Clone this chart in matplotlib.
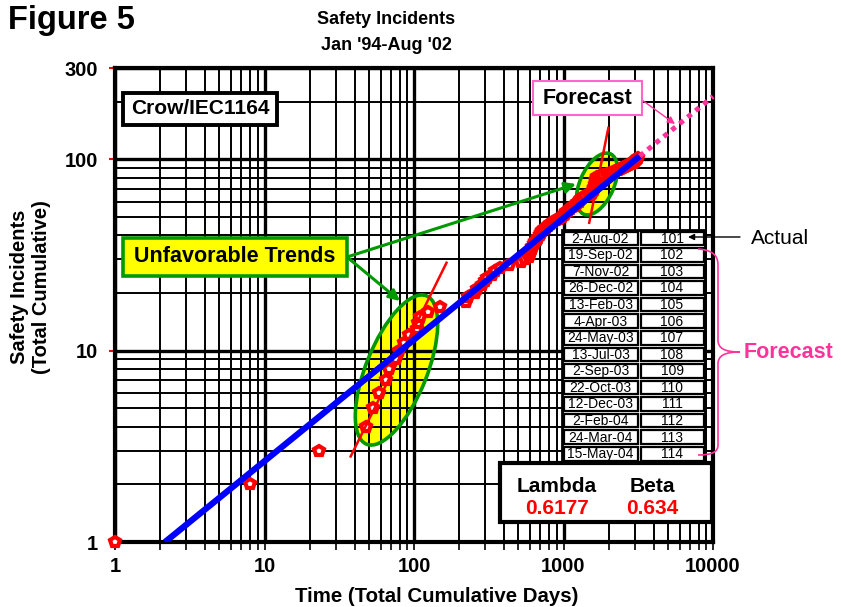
import numpy as np
import matplotlib
matplotlib.use("Agg")
import matplotlib.pyplot as plt
from matplotlib import font_manager as fm
from matplotlib.patches import Ellipse, Rectangle, PathPatch, FancyArrowPatch
from matplotlib.path import Path
from matplotlib.transforms import IdentityTransform
from matplotlib.ticker import LogLocator, NullFormatter

# ── Fonts ─────────────────────────────────────────────────────────────────────
names = {f.name for f in fm.fontManager.ttflist}
SANS = "Liberation Sans" if "Liberation Sans" in names else "DejaVu Sans"
NARROW = "Liberation Sans Narrow" if "Liberation Sans Narrow" in names else SANS
plt.rcParams["font.family"] = [SANS, "DejaVu Sans"]

# ── Data ──────────────────────────────────────────────────────────────────────
days = [1, 8, 23, 48, 53, 58, 65, 68, 76, 79,
        86, 93, 104, 107, 110, 125, 149, 222, 228, 255,
        265, 285, 300, 310, 330, 350, 375, 430, 520, 550,
        590, 600, 605, 612, 620, 630, 645, 660, 680, 695,
        705, 720, 735, 760, 790, 815, 850, 890, 930, 975,
        1000, 1020, 1045, 1080, 1100, 1140, 1180, 1210, 1240, 1260,
        1280, 1300, 1330, 1400, 1470, 1520, 1550, 1570, 1590, 1600,
        1610, 1620, 1630, 1640, 1645, 1650, 1655, 1660, 1665, 1670,
        1680, 1750, 1850, 1950, 2050, 2130, 2220, 2300, 2380, 2450,
        2530, 2610, 2690, 2770, 2850, 2910, 2970, 3020, 3060, 3100,
        3135]
incidents = [1, 2, 3, 4, 5, 6, 7, 8, 9, 10,
             11, 12, 13, 14, 15, 16, 17, 18, 19, 20,
             21, 22, 23, 24, 25, 26, 27, 28, 29, 30,
             31, 32, 33, 34, 35, 36, 37, 38, 39, 40,
             41, 42, 43, 44, 45, 46, 47, 48, 49, 50,
             51, 52, 53, 54, 55, 56, 57, 58, 59, 60,
             61, 62, 63, 64, 65, 66, 67, 68, 69, 70,
             71, 72, 73, 74, 75, 76, 77, 78, 79, 80,
             81, 82, 83, 84, 85, 86, 87, 88, 89, 90,
             91, 92, 93, 94, 95, 96, 97, 98, 99, 100,
             101]

fit_t = [2.16, 3240]          # Crow/AMSAA fit  N = lambda * t^beta
fit_n = [1.0, 104]
forecast_t = [3240, 10000]
forecast_n = [104, 213]
trend1_t = [37.7, 165]
trend1_n = [2.8, 28.8]
trend2_t = [1486, 1995]
trend2_n = [46.6, 146]

table_dates = ["2-Aug-02", "19-Sep-02", "7-Nov-02", "26-Dec-02", "13-Feb-03",
               "4-Apr-03", "24-May-03", "13-Jul-03", "2-Sep-03", "22-Oct-03",
               "12-Dec-03", "2-Feb-04", "24-Mar-04", "15-May-04"]
table_counts = [101, 102, 103, 104, 105, 106, 107, 108, 109, 110, 111, 112, 113, 114]

lam, beta = "0.6177", "0.634"

GREEN = "#009900"
PINK = "#FF3399"
PINK_LIGHT = "#FF66CC"

# ── Layout (pixel helpers, y measured from top) ───────────────────────────────
W, H = 841, 607
PX = IdentityTransform()

def T(x, y, s, **kw):
    return fig.text(x / W, 1 - y / H, s, **kw)

def box(x0, y0, x1, y1, **kw):
    r = Rectangle((x0, H - y1), x1 - x0, y1 - y0, transform=PX, **kw)
    fig.add_artist(r)
    return r

fig = plt.figure(figsize=(W / 100, H / 100), dpi=100)
ax = fig.add_axes([115 / W, (H - 542) / H, 598 / W, 474 / H])
ax.set_xscale("log")
ax.set_yscale("log")
ax.set_xlim(1, 10000)
ax.set_ylim(1, 300)

ax.set_xticks([1, 10, 100, 1000, 10000], labels=["1", "10", "100", "1000", "10000"])
ax.xaxis.set_minor_locator(LogLocator(base=10, subs=np.arange(2, 10)))
ax.xaxis.set_minor_formatter(NullFormatter())
ax.set_yticks([1, 10, 100, 300], labels=["1", "10", "100", "300"])
ax.yaxis.set_minor_locator(LogLocator(base=10, subs=np.arange(2, 10)))
ax.yaxis.set_minor_formatter(NullFormatter())

ax.set_axisbelow(True)
ax.grid(which="major", color="black", linewidth=2.4)
ax.grid(which="minor", color="black", linewidth=1.4)
for sp in ax.spines.values():
    sp.set_linewidth(3)
    sp.set_color("black")

ax.tick_params(axis="x", which="both", direction="out", length=6, width=1.2,
               color="black", labelsize=14.5, pad=5)
ax.tick_params(axis="y", which="major", direction="out", length=4, width=1.5,
               color="red", labelsize=14.5, pad=8)
ax.tick_params(axis="y", which="minor", length=0)
for lbl in ax.get_xticklabels() + ax.get_yticklabels():
    lbl.set_fontweight("bold")

# ── Ellipses (fill below grid, edge above) ────────────────────────────────────
for (cx, cy, w, h, ang) in [(396.5, 370, 160, 61, 68), (597, 184, 66, 34, 66)]:
    ax.add_patch(Ellipse((cx, H - cy), w, h, angle=ang, transform=PX,
                         facecolor="yellow", edgecolor="none", zorder=0.2))
    ax.add_patch(Ellipse((cx, H - cy), w, h, angle=ang, transform=PX,
                         facecolor="none", edgecolor=GREEN, linewidth=2.6, zorder=2.6))

# ── Data and lines ────────────────────────────────────────────────────────────
ax.plot(days, incidents, linestyle="none", marker="p", markersize=7.5,
        markerfacecolor="white", markeredgecolor="red", markeredgewidth=3,
        zorder=3, clip_on=False)
ax.plot(trend1_t, trend1_n, color="red", linewidth=1.8, zorder=3.5)
ax.plot(trend2_t, trend2_n, color="red", linewidth=1.8, zorder=3.5)
ax.plot(fit_t, fit_n, color="#0000FF", linewidth=4.5, zorder=4, solid_capstyle="butt")
ax.plot(forecast_t, forecast_n, color=PINK, linewidth=3.6, linestyle=(0, (1, 1.05)),
        zorder=4, clip_on=False)

# ── Green arrows from the "Unfavorable Trends" box ────────────────────────────
for tgt in [(400, 301), (576, 184)]:
    ax.annotate("", xy=(tgt[0], H - tgt[1]), xytext=(347, H - 257),
                xycoords="figure pixels", textcoords="figure pixels",
                arrowprops=dict(arrowstyle="-|>", color=GREEN, lw=2.2,
                                mutation_scale=16, shrinkA=0, shrinkB=0),
                zorder=5)

# pink arrow from Forecast box
ax.annotate("", xy=(675, H - 124), xytext=(642, H - 100),
            xycoords="figure pixels", textcoords="figure pixels",
            arrowprops=dict(arrowstyle="-|>", color=PINK, lw=1.0,
                            mutation_scale=11, shrinkA=0, shrinkB=0), zorder=5)

# ── Boxes and labels ──────────────────────────────────────────────────────────
box(123, 93, 277, 125, facecolor="white", edgecolor="black", linewidth=2.8)
T(200, 109, "Crow/IEC1164", ha="center", va="center", fontsize=15, fontweight="bold")

box(123, 238, 347, 276, facecolor="yellow", edgecolor=GREEN, linewidth=2.6)
T(235, 257, "Unfavorable Trends", ha="center", va="center", fontsize=15.5, fontweight="bold")

box(533, 81, 642, 115, facecolor="white", edgecolor=PINK_LIGHT, linewidth=1.5)
T(587.5, 98, "Forecast", ha="center", va="center", fontsize=15.5, fontweight="bold")

# forecast table
tx0, tx1, tx2 = 562, 639, 705
ty0, ty1 = 230, 462
row_h = (ty1 - ty0) / len(table_dates)
box(tx0, ty0, tx2, ty1, facecolor="white", edgecolor="black", linewidth=2)
for i, (dt, cnt) in enumerate(zip(table_dates, table_counts)):
    y0 = ty0 + i * row_h
    box(tx0 + 1.5, y0 + 1.5, tx1 - 1.5, y0 + row_h - 1.5, facecolor="white",
        edgecolor="black", linewidth=1.6)
    box(tx1 + 1.5, y0 + 1.5, tx2 - 1.5, y0 + row_h - 1.5, facecolor="white",
        edgecolor="black", linewidth=1.6)
    T((tx0 + tx1) / 2, y0 + row_h / 2 + 0.5, dt, ha="center", va="center", fontsize=10)
    T((tx1 + tx2) / 2, y0 + row_h / 2 + 0.5, str(cnt), ha="center", va="center", fontsize=10)

# Actual arrow
fig.add_artist(FancyArrowPatch((740, H - 237), (688, H - 237), transform=PX,
                               arrowstyle="-|>", mutation_scale=9, color="black",
                               lw=1.0, shrinkA=0, shrinkB=0))
T(751, 238, "Actual", ha="left", va="center", fontsize=15)

# brace
verts = [(698, 249), (712, 250), (718, 255), (718, 265),
         (718, 340),
         (718, 348), (724, 352), (740, 352),
         (724, 352), (718, 356), (718, 364),
         (718, 445),
         (718, 452), (712, 455), (698, 455)]
codes = [Path.MOVETO, Path.CURVE4, Path.CURVE4, Path.CURVE4,
         Path.LINETO,
         Path.CURVE4, Path.CURVE4, Path.CURVE4,
         Path.CURVE4, Path.CURVE4, Path.CURVE4,
         Path.LINETO,
         Path.CURVE4, Path.CURVE4, Path.CURVE4]
fig.add_artist(PathPatch(Path([(x, H - y) for x, y in verts], codes), transform=PX,
                         facecolor="none", edgecolor=PINK, linewidth=1.2))
T(744, 352, "Forecast", ha="left", va="center", fontsize=15.5, fontweight="bold", color=PINK)

# lambda / beta
box(500, 463, 712, 522, facecolor="white", edgecolor="black", linewidth=3)
T(557, 487, "Lambda", ha="center", va="center", fontsize=15, fontweight="bold", family=NARROW)
T(652, 487, "Beta", ha="center", va="center", fontsize=15, fontweight="bold", family=NARROW)
T(557, 509, lam, ha="center", va="center", fontsize=15, fontweight="bold", color="red", family=NARROW)
T(652, 509, beta, ha="center", va="center", fontsize=15, fontweight="bold", color="red", family=NARROW)

# titles and axis labels
T(8, 20, "Figure 5", ha="left", va="center", fontsize=23.5, fontweight="bold")
T(386, 20, "Safety Incidents", ha="center", va="center", fontsize=13, fontweight="bold", family=NARROW)
T(386, 45, "Jan '94-Aug '02", ha="center", va="center", fontsize=13, fontweight="bold", family=NARROW)
T(437, 596, "Time (Total Cumulative Days)", ha="center", va="center",
  fontsize=14.7, fontweight="bold", family=NARROW)
T(31, 287, "Safety Incidents\n(Total Cumulative)", ha="center", va="center",
  rotation=90, fontsize=14.5, fontweight="bold", linespacing=1.2)

fig.savefig("out.png", dpi=100)
